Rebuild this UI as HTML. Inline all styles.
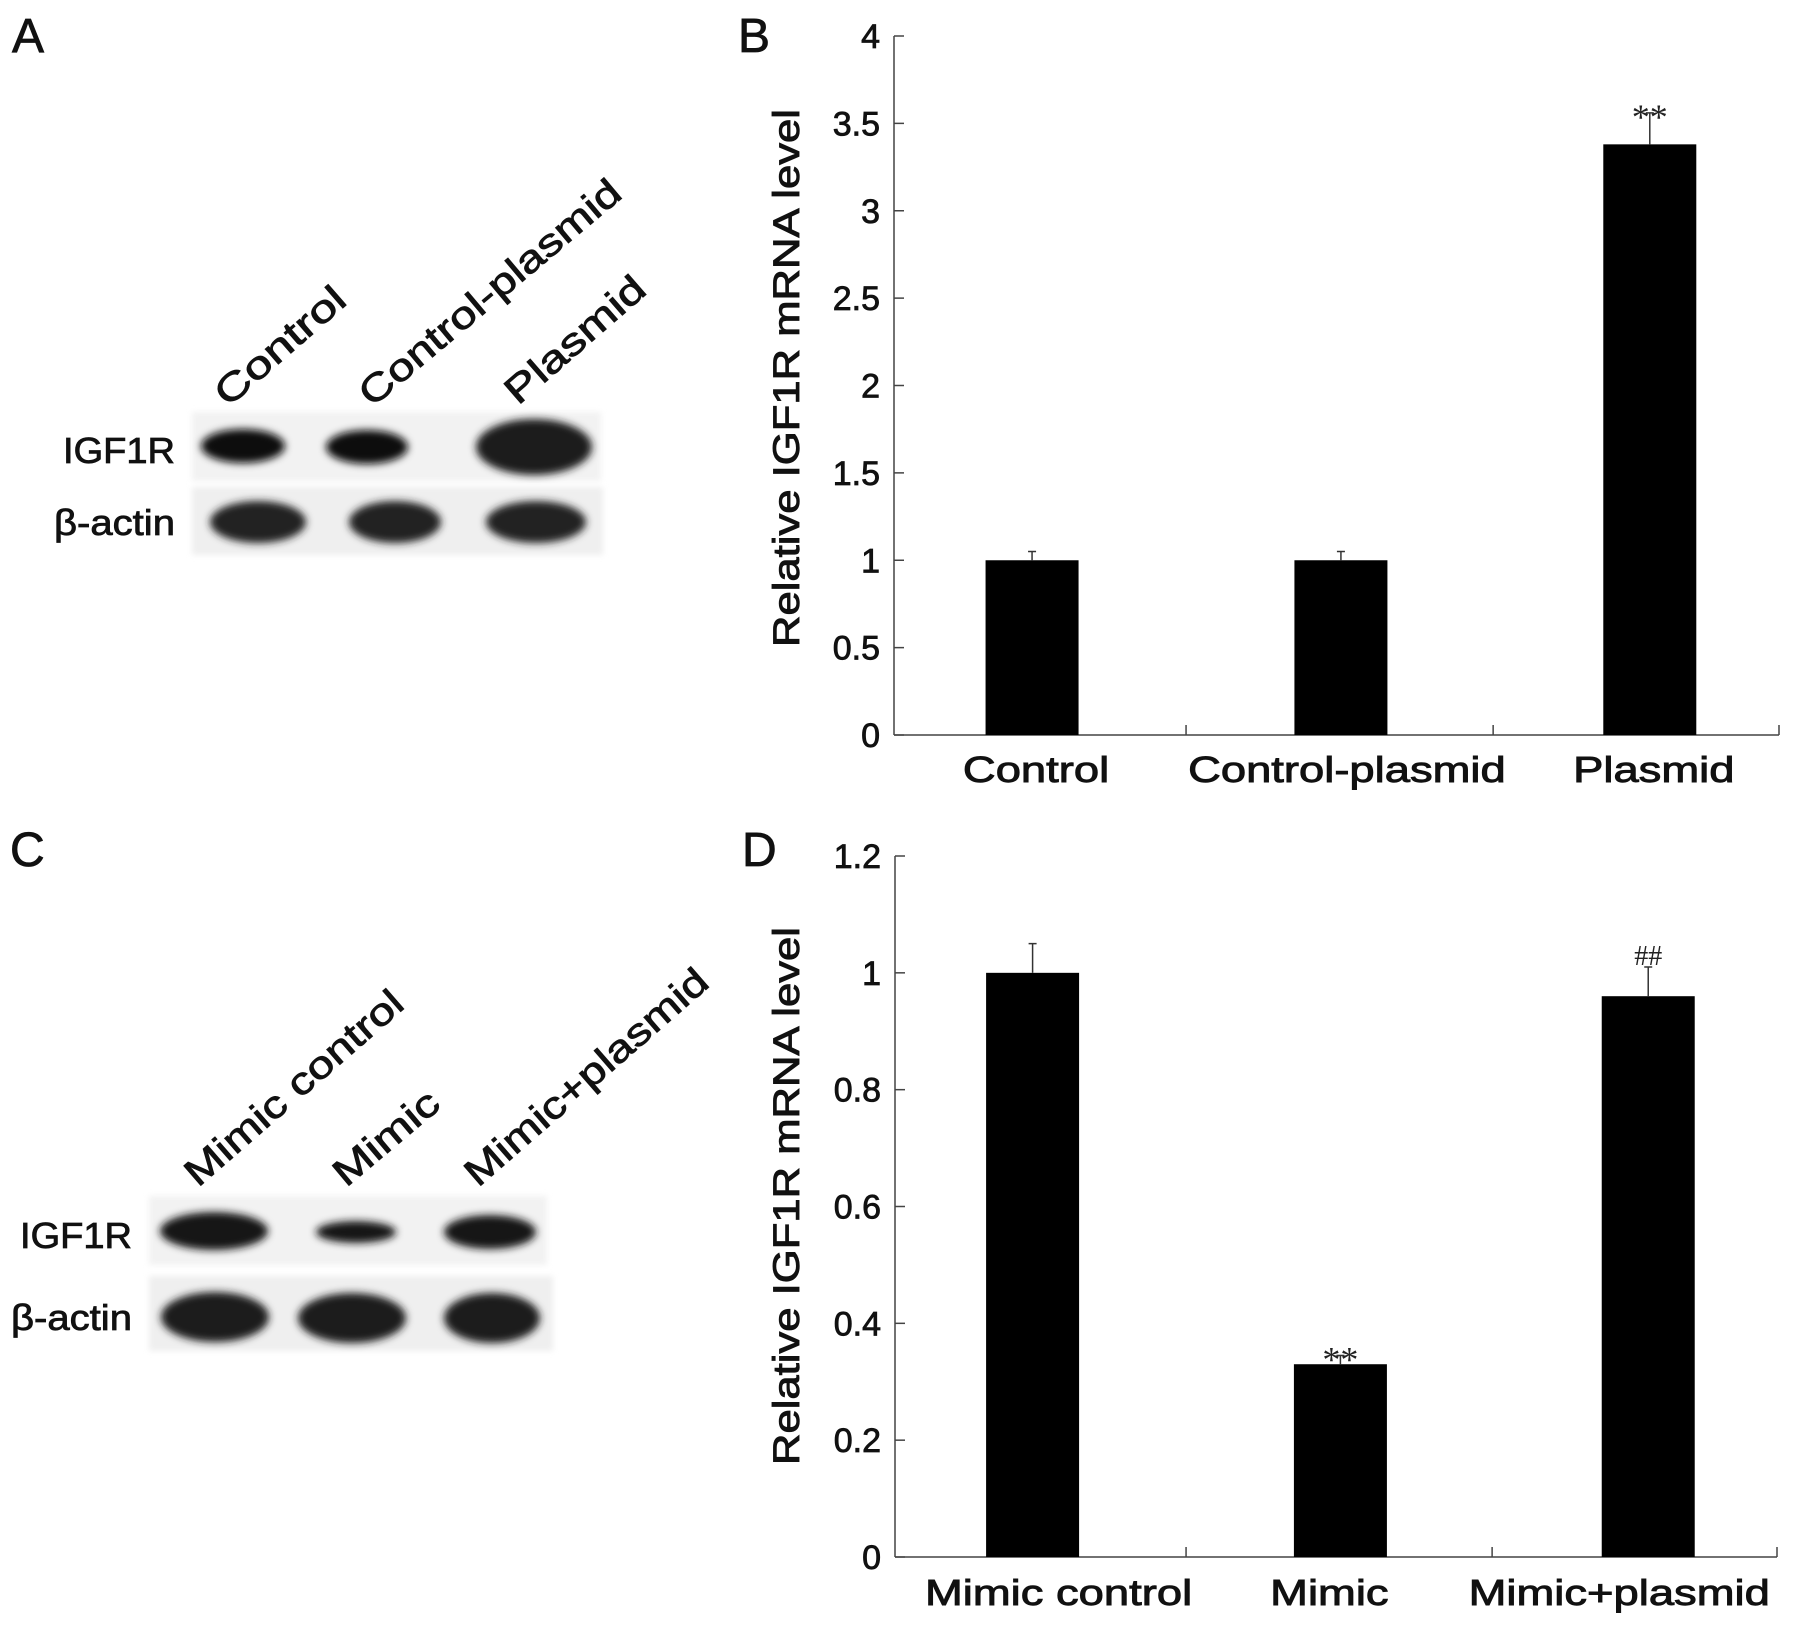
<!DOCTYPE html>
<html><head><meta charset="utf-8"><style>
html,body{margin:0;padding:0;background:#fff;}
svg{display:block;font-family:"Liberation Sans",sans-serif;}
</style></head><body>
<svg id="fig" width="1795" height="1626" viewBox="0 0 1795 1626" xmlns="http://www.w3.org/2000/svg">
<defs>
<filter id="blur" x="-30%" y="-50%" width="160%" height="200%"><feGaussianBlur stdDeviation="4"/></filter>
<filter id="blur2" x="-10%" y="-20%" width="120%" height="140%"><feGaussianBlur stdDeviation="3"/></filter>
</defs>
<g stroke="#111" stroke-width="0.8" fill="#111">
<text x="12" y="52" font-size="48">A</text>
<text x="738" y="52" font-size="48">B</text>
<text x="10" y="866" font-size="48">C</text>
<text x="742" y="866" font-size="48">D</text>
</g>

<!-- Blot A -->
<g>
<rect x="192" y="412" width="409" height="69" fill="#f2f2f2" filter="url(#blur2)"/>
<rect x="192" y="487" width="411" height="68" fill="#efefef" filter="url(#blur2)"/>
<ellipse cx="243" cy="446" rx="42" ry="17" fill="#0a0a0a" filter="url(#blur)"/>
<ellipse cx="367" cy="447" rx="41" ry="17" fill="#0a0a0a" filter="url(#blur)"/>
<ellipse cx="534" cy="447" rx="58" ry="28" fill="#1a1a1a" filter="url(#blur)"/>
<ellipse cx="258" cy="522" rx="48" ry="21" fill="#222" filter="url(#blur)"/>
<ellipse cx="395" cy="522" rx="46" ry="21" fill="#222" filter="url(#blur)"/>
<ellipse cx="536" cy="522" rx="50" ry="21" fill="#222" filter="url(#blur)"/>
<g stroke="#111" stroke-width="0.8" fill="#111">
<text x="175" y="463" font-size="36" text-anchor="end" textLength="112" lengthAdjust="spacingAndGlyphs">IGF1R</text>
<text x="175" y="535" font-size="36" text-anchor="end" textLength="121" lengthAdjust="spacingAndGlyphs">β-actin</text>
<text transform="translate(228,408) rotate(-41)" font-size="38" textLength="160" lengthAdjust="spacingAndGlyphs">Control</text>
<text transform="translate(372,408) rotate(-40)" font-size="38" textLength="329" lengthAdjust="spacingAndGlyphs">Control-plasmid</text>
<text transform="translate(518,406) rotate(-41)" font-size="38" textLength="173" lengthAdjust="spacingAndGlyphs">Plasmid</text>
</g>
</g>

<!-- Blot C -->
<g>
<rect x="149" y="1196" width="398" height="69" fill="#f2f2f2" filter="url(#blur2)"/>
<rect x="149" y="1276" width="404" height="75" fill="#efefef" filter="url(#blur2)"/>
<ellipse cx="214" cy="1231" rx="54" ry="19" fill="#141414" filter="url(#blur)"/>
<ellipse cx="356" cy="1232" rx="40" ry="11" fill="#141414" filter="url(#blur)"/>
<ellipse cx="490" cy="1232" rx="46" ry="17" fill="#141414" filter="url(#blur)"/>
<ellipse cx="215" cy="1317" rx="54" ry="25" fill="#1e1e1e" filter="url(#blur)"/>
<ellipse cx="352" cy="1318" rx="54" ry="25" fill="#1e1e1e" filter="url(#blur)"/>
<ellipse cx="492" cy="1318" rx="48" ry="25" fill="#1e1e1e" filter="url(#blur)"/>
<g stroke="#111" stroke-width="0.8" fill="#111">
<text x="132" y="1248" font-size="36" text-anchor="end" textLength="112" lengthAdjust="spacingAndGlyphs">IGF1R</text>
<text x="132" y="1330" font-size="36" text-anchor="end" textLength="121" lengthAdjust="spacingAndGlyphs">β-actin</text>
<text transform="translate(198,1188) rotate(-41)" font-size="38" textLength="276" lengthAdjust="spacingAndGlyphs">Mimic control</text>
<text transform="translate(346,1188) rotate(-40)" font-size="38" textLength="126" lengthAdjust="spacingAndGlyphs">Mimic</text>
<text transform="translate(478,1188) rotate(-41)" font-size="38" textLength="309" lengthAdjust="spacingAndGlyphs">Mimic+plasmid</text>
</g>
</g>

<g id="chartB"></g>
<g id="chartD"></g>
</svg>
<script>
const bCategories = ["Control", "Control-plasmid", "Plasmid"];
const bValues = [1.0, 1.0, 3.38];
const bErrors = [0.05, 0.05, 0.18];
const bMarks = ["", "", "**"];
const bTicks = ["0", "0.5", "1", "1.5", "2", "2.5", "3", "3.5", "4"];
const bTickValues = [0, 0.5, 1, 1.5, 2, 2.5, 3, 3.5, 4];

const dCategories = ["Mimic control", "Mimic", "Mimic+plasmid"];
const dValues = [1.0, 0.33, 0.96];
const dErrors = [0.05, 0.015, 0.05];
const dMarks = ["", "**", "##"];
const dTicks = ["0", "0.2", "0.4", "0.6", "0.8", "1", "1.2"];
const dTickValues = [0, 0.2, 0.4, 0.6, 0.8, 1.0, 1.2];

const NS = "http://www.w3.org/2000/svg";
function mk(parent, tag, attrs, text) {
  const el = document.createElementNS(NS, tag);
  for (const k in attrs) el.setAttribute(k, attrs[k]);
  if (text !== undefined) el.textContent = text;
  parent.appendChild(el);
  return el;
}
function measure(g, str, size) {
  const t = mk(g, "text", {"font-size": size, x: -9999, y: -9999}, str);
  const w = t.getComputedTextLength();
  g.removeChild(t);
  return w;
}

function drawChart(g, cfg, cats, vals, errs, marks, ticks, tickVals, prefix) {
  const y = v => cfg.y0 - v / cfg.max * (cfg.y0 - cfg.yTop);
  const n = cats.length;
  const L = cfg.xEnd - cfg.x0;
  const xc = i => cfg.x0 + L * (0.156 + 0.349 * i);
  const bw = 93;
  const ya = mk(g, "line", {x1: cfg.x0, y1: cfg.yTop, x2: cfg.x0, y2: cfg.y0, stroke: "#444", "stroke-width": 1.5});
  
  
  const xa = mk(g, "line", {x1: cfg.x0, y1: cfg.y0, x2: cfg.xEnd, y2: cfg.y0, stroke: "#444", "stroke-width": 1.5});
  
  
  for (let i = 1; i <= n; i++) {
    const xt = cfg.x0 + L * (i === n ? 1 : (0.33 + 0.347 * (i - 1)));
    const t = mk(g, "line", {x1: xt, y1: cfg.y0, x2: xt, y2: cfg.y0 - 10, stroke: "#444", "stroke-width": 1.5});
    
    
  }
  tickVals.forEach((v, i) => {
    const yy = y(v);
    const t = mk(g, "line", {x1: cfg.x0, y1: yy, x2: cfg.x0 + 10, y2: yy, stroke: "#444", "stroke-width": 1.5});
    
    
    const lb = mk(g, "text", {x: cfg.x0 - 14, y: yy + 12, "font-size": 34, "text-anchor": "end", fill: "#111", stroke: "#111", "stroke-width": 0.8}, ticks[i]);
    
    
  });
  cats.forEach((c, i) => {
    const cx = xc(i);
    const top = y(vals[i]);
    const bar = mk(g, "rect", {x: cx - bw / 2, y: top, width: bw, height: cfg.y0 - top, fill: "#000"});
    
    
    const eTop = y(vals[i] + errs[i]);
    const e = mk(g, "line", {x1: cx, y1: top, x2: cx, y2: eTop, stroke: "#333", "stroke-width": 1.5});
    
    
    const ec = mk(g, "line", {x1: cx - 4, y1: eTop, x2: cx + 4, y2: eTop, stroke: "#333", "stroke-width": 1.5});
    
    
    if (marks[i]) {
      const m = mk(g, "text", {x: cx, y: eTop + (marks[i] === "##" ? -2 : 16), "font-size": marks[i] === "##" ? 28 : 36, "text-anchor": "middle", fill: "#222", "font-family": "Liberation Serif, serif"}, marks[i]);
      
      
    }
    const w = measure(g, c, 36) * 1.26;
    const lb = mk(g, "text", {x: cx + cfg.labelShift[i], y: cfg.labelY, "font-size": 36, "text-anchor": "middle", fill: "#111", stroke: "#111", "stroke-width": 0.9, textLength: w, lengthAdjust: "spacingAndGlyphs"}, c);
    
    
  });
  const title = mk(g, "text", {transform: "translate(" + cfg.titleX + "," + cfg.titleY + ") rotate(-90)", "font-size": 37, "text-anchor": "middle", fill: "#111", stroke: "#111", "stroke-width": 0.9, textLength: 538, lengthAdjust: "spacingAndGlyphs"}, "Relative IGF1R mRNA level");
  
  
}

drawChart(document.getElementById("chartB"),
  {x0: 894, xEnd: 1779, y0: 735, yTop: 36, max: 4, labelY: 782, titleX: 799, titleY: 378, labelShift: [4, 6, 4]},
  bCategories, bValues, bErrors, bMarks, bTicks, bTickValues, "chart-b");
drawChart(document.getElementById("chartD"),
  {x0: 895, xEnd: 1777, y0: 1557, yTop: 856, max: 1.2, labelY: 1605, titleX: 799, titleY: 1196, labelShift: [26, -11, -29]},
  dCategories, dValues, dErrors, dMarks, dTicks, dTickValues, "chart-d");
</script>
</body></html>
